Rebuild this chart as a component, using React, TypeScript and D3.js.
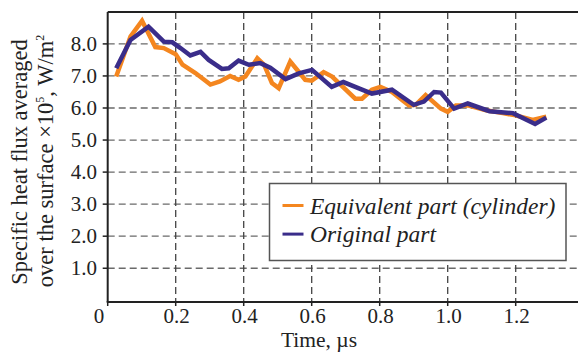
import { useEffect, useRef } from 'react'
import * as d3 from 'd3'

// Equivalent part (cylinder)
const equivTime = [0.025, 0.067, 0.101, 0.14, 0.165, 0.2, 0.22, 0.258, 0.302, 0.33, 0.36, 0.385, 0.405, 0.44, 0.46, 0.483, 0.503, 0.537, 0.581, 0.6, 0.635, 0.66, 0.728, 0.748, 0.777, 0.802, 0.836, 0.886, 0.906, 0.935, 0.98, 1.0, 1.024, 1.059, 1.113, 1.162, 1.2, 1.25, 1.29]
const equivFlux = [6.98, 8.23, 8.72, 7.9, 7.87, 7.68, 7.35, 7.09, 6.73, 6.83, 7.0, 6.88, 6.98, 7.55, 7.35, 6.78, 6.62, 7.45, 6.88, 6.85, 7.12, 6.98, 6.29, 6.29, 6.57, 6.66, 6.5, 6.08, 6.1, 6.4, 5.98, 5.88, 6.08, 6.08, 5.93, 5.84, 5.77, 5.63, 5.73]

// Original part
const origTime = [0.025, 0.067, 0.12, 0.165, 0.19, 0.214, 0.243, 0.273, 0.297, 0.336, 0.356, 0.385, 0.415, 0.449, 0.478, 0.523, 0.562, 0.601, 0.659, 0.693, 0.728, 0.777, 0.836, 0.9, 0.93, 0.96, 0.98, 1.019, 1.059, 1.123, 1.192, 1.257, 1.29]
const origFlux = [7.24, 8.12, 8.54, 8.07, 8.05, 7.87, 7.64, 7.75, 7.5, 7.22, 7.24, 7.48, 7.35, 7.4, 7.26, 6.9, 7.08, 7.19, 6.66, 6.81, 6.66, 6.45, 6.57, 6.1, 6.2, 6.5, 6.48, 5.98, 6.14, 5.9, 5.84, 5.5, 5.7]

const xTicks = [0, 0.2, 0.4, 0.6, 0.8, 1.0, 1.2]
const yTicks = [1, 2, 3, 4, 5, 6, 7, 8]
const seriesNames = ['Equivalent part (cylinder)', 'Original part']
const seriesColors = ['#f4861f', '#3a2d8a']

const width = 578
const height = 352
const font = "'Liberation Serif', serif"

export default function App() {
  const svgRef = useRef<SVGSVGElement>(null)

  useEffect(() => {
    if (!svgRef.current) return
    const svg = d3.select(svgRef.current)
    svg.selectAll('*').remove()

    const left = 107.7
    const top = 12
    const axisY = 302

    const x = d3.scaleLinear().domain([0, 1.4]).range([left, left + 1.4 * 340])
    const y = d3.scaleLinear().domain([0, 9]).range([300.3, 300.3 - 9 * 32.05])

    // grid
    const grid = svg.append('g')
    grid
      .selectAll('.hgrid')
      .data(yTicks)
      .enter()
      .append('line')
      .attr('x1', left)
      .attr('x2', width)
      .attr('y1', (d) => y(d))
      .attr('y2', (d) => y(d))
      .attr('stroke', '#6a6a6a')
      .attr('stroke-width', 1.3)
      .attr('stroke-dasharray', '7,4')
    grid
      .selectAll('.vgrid')
      .data(xTicks.slice(1))
      .enter()
      .append('line')
      .attr('x1', (d) => x(d))
      .attr('x2', (d) => x(d))
      .attr('y1', top)
      .attr('y2', axisY)
      .attr('stroke', '#444')
      .attr('stroke-width', 1.3)
      .attr('stroke-dasharray', '7,4')

    // frame
    svg.append('line').attr('x1', left).attr('x2', width).attr('y1', top).attr('y2', top)
      .attr('stroke', '#222').attr('stroke-width', 2)
    svg.append('line').attr('x1', left).attr('x2', left).attr('y1', top).attr('y2', axisY)
      .attr('stroke', '#222').attr('stroke-width', 2)
    svg.append('line').attr('x1', left - 1).attr('x2', width).attr('y1', axisY).attr('y2', axisY)
      .attr('stroke', '#222').attr('stroke-width', 2)

    // ticks
    svg.selectAll('.ytick')
      .data(yTicks)
      .enter()
      .append('line')
      .attr('x1', left - 5)
      .attr('x2', left)
      .attr('y1', (d) => y(d))
      .attr('y2', (d) => y(d))
      .attr('stroke', '#222')
      .attr('stroke-width', 1.5)
    svg.selectAll('.xtick')
      .data(xTicks)
      .enter()
      .append('line')
      .attr('x1', (d) => x(d))
      .attr('x2', (d) => x(d))
      .attr('y1', axisY)
      .attr('y2', axisY + 4)
      .attr('stroke', '#222')
      .attr('stroke-width', 1.5)

    // tick labels
    svg.selectAll('.ylabel')
      .data(yTicks)
      .enter()
      .append('text')
      .attr('x', 97)
      .attr('y', (d) => y(d) + 7)
      .attr('text-anchor', 'end')
      .attr('font-family', font)
      .attr('font-size', '21px')
      .attr('fill', '#222')
      .text((d) => d.toFixed(1))
    svg.selectAll('.xlabel')
      .data(xTicks)
      .enter()
      .append('text')
      .attr('x', (d) => (d === 0 ? 99 : x(d) + 1))
      .attr('y', 322.5)
      .attr('text-anchor', 'middle')
      .attr('font-family', font)
      .attr('font-size', '21px')
      .attr('fill', '#222')
      .text((d) => (d === 0 ? '0' : d.toFixed(1)))

    // axis titles
    svg.append('text')
      .attr('x', 319)
      .attr('y', 346.5)
      .attr('text-anchor', 'middle')
      .attr('font-family', font)
      .attr('font-size', '21.5px')
      .attr('fill', '#222')
      .text('Time, µs')

    svg.append('text')
      .attr('transform', 'translate(27,162) rotate(-90)')
      .attr('text-anchor', 'middle')
      .attr('font-family', font)
      .attr('font-size', '22.5px')
      .attr('fill', '#222')
      .text('Specific heat flux averaged')

    const t2 = svg.append('text')
      .attr('transform', 'translate(53,161) rotate(-90)')
      .attr('text-anchor', 'middle')
      .attr('font-family', font)
      .attr('font-size', '22.5px')
      .attr('fill', '#222')
    t2.append('tspan').text('over the surface ×10')
    t2.append('tspan').attr('font-size', '12px').attr('dy', -9).text('5')
    t2.append('tspan').attr('dy', 9).text(', W/m')
    t2.append('tspan').attr('font-size', '12px').attr('dy', -9).text('2')

    // lines
    const line = d3
      .line<[number, number]>()
      .x((d) => x(d[0]))
      .y((d) => y(d[1]))

    const series: [number, number][][] = [
      equivTime.map((t, i) => [t, equivFlux[i]]),
      origTime.map((t, i) => [t, origFlux[i]]),
    ]
    series.forEach((s, i) => {
      svg.append('path')
        .attr('d', line(s) || '')
        .attr('fill', 'none')
        .attr('stroke', seriesColors[i])
        .attr('stroke-width', 4.5)
        .attr('stroke-linejoin', 'miter')
    })

    // legend
    const legend = svg.append('g').attr('transform', 'translate(269.5,183.5)')
    legend.append('rect')
      .attr('width', 296.5)
      .attr('height', 77)
      .attr('fill', 'white')
      .attr('stroke', '#555')
      .attr('stroke-width', 1.5)
    const items = legend.selectAll('.item')
      .data(seriesNames)
      .enter()
      .append('g')
      .attr('transform', (_, i) => `translate(0, ${22 + i * 28.6})`)
    items.append('line')
      .attr('x1', 13)
      .attr('x2', 34)
      .attr('stroke', (_, i) => seriesColors[i])
      .attr('stroke-width', 3)
    items.append('text')
      .attr('x', 40.5)
      .attr('y', 8)
      .attr('font-family', font)
      .attr('font-style', 'italic')
      .attr('font-size', '23.5px')
      .attr('fill', '#222')
      .text((d) => d)
  }, [])

  return (
    <svg
      ref={svgRef}
      width={width}
      height={height}
      fontFamily={font}
      style={{ position: 'absolute', left: 0, top: 0, background: 'white' }}
    />
  )
}
